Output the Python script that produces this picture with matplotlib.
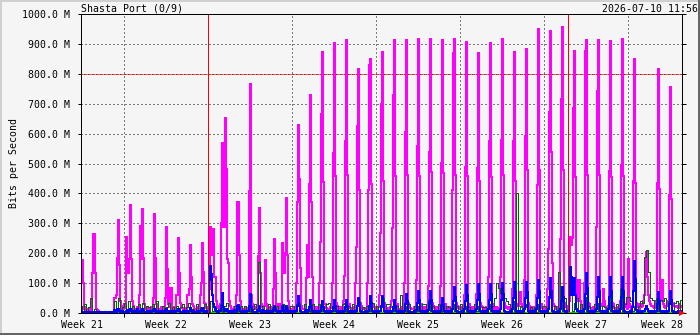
import numpy as np
import matplotlib.pyplot as plt
from matplotlib import transforms
from matplotlib.patches import Rectangle

# MRTG-style weekly traffic graph, "Shasta Port (0/9)"

# %% Data (Mbit/s). Day 0 = 2026-05-21, rows run 00:00 -> 24:00
# max out (magenta), 2-hour samples, 12 per day
max_out_rows = [
    [4, 4, 4, 4, 4, 177, 177, 100, 12, 20, 8, 15],          # May 21
    [10, 14, 8, 12, 135, 264, 264, 135, 15, 10, 6, 5],
    [4, 4, 4, 4, 4, 4, 4, 4, 4, 4, 4, 4],
    [4, 4, 50, 50, 60, 184, 311, 160, 40, 20, 15, 25],
    [30, 18, 255, 135, 135, 180, 361, 180, 40, 22, 15, 12],  # May 25
    [15, 20, 12, 60, 290, 180, 348, 184, 30, 18, 12, 20],
    [12, 15, 10, 20, 20, 50, 331, 184, 30, 25, 15, 12],
    [10, 20, 15, 12, 18, 50, 287, 147, 30, 20, 85, 85],
    [15, 12, 20, 10, 60, 60, 251, 134, 35, 25, 18, 12],
    [12, 18, 10, 60, 60, 80, 227, 121, 30, 22, 15, 10],
    [15, 10, 20, 12, 60, 100, 234, 137, 35, 30, 18, 12],
    [20, 80, 288, 194, 194, 280, 121, 121, 40, 25, 18, 15],  # Jun 1
    [30, 300, 568, 288, 288, 652, 481, 180, 167, 40, 25, 15],
    [15, 12, 20, 18, 60, 371, 371, 194, 40, 20, 15, 12],
    [12, 20, 15, 10, 18, 408, 766, 60, 30, 15, 20, 12],
    [15, 20, 190, 351, 134, 30, 20, 15, 25, 177, 30, 15],
    [12, 15, 20, 10, 15, 80, 248, 134, 30, 20, 15, 30],
    [15, 20, 233, 134, 134, 200, 384, 194, 40, 20, 15, 12],
    [12, 18, 10, 15, 100, 370, 629, 448, 150, 25, 15, 12],  # Jun 8
    [15, 12, 118, 229, 121, 432, 729, 371, 121, 25, 15, 20],
    [12, 20, 15, 100, 236, 665, 873, 438, 30, 30, 18, 12],
    [15, 12, 20, 18, 100, 535, 902, 459, 35, 25, 15, 20],
    [20, 15, 12, 40, 123, 575, 913, 460, 30, 30, 18, 15],
    [15, 20, 12, 100, 221, 624, 816, 411, 35, 25, 15, 12],
    [12, 18, 15, 100, 411, 829, 849, 432, 30, 30, 20, 15],
    [15, 12, 20, 60, 268, 699, 873, 443, 35, 25, 15, 18],    # Jun 15
    [12, 15, 20, 40, 283, 729, 913, 458, 30, 30, 15, 12],
    [15, 20, 12, 18, 100, 607, 913, 461, 35, 25, 18, 15],
    [12, 15, 20, 15, 110, 557, 915, 459, 30, 30, 15, 20],
    [15, 20, 12, 18, 90, 539, 918, 471, 35, 25, 18, 12],
    [20, 15, 12, 20, 90, 502, 913, 468, 30, 30, 15, 18],
    [15, 12, 20, 15, 411, 870, 918, 461, 35, 25, 18, 15],
    [20, 15, 12, 18, 60, 488, 907, 458, 30, 30, 15, 20],     # Jun 22
    [15, 20, 15, 12, 65, 485, 870, 443, 35, 25, 20, 15],
    [12, 18, 20, 15, 121, 575, 904, 455, 30, 30, 15, 12],
    [20, 15, 18, 12, 121, 579, 916, 462, 35, 25, 18, 20],
    [15, 12, 20, 18, 80, 575, 873, 443, 30, 30, 25, 70],
    [70, 30, 20, 15, 110, 591, 884, 479, 35, 25, 15, 20],
    [15, 20, 12, 18, 60, 427, 950, 477, 30, 30, 18, 15],
    [12, 18, 15, 80, 213, 671, 944, 539, 167, 30, 25, 20],   # Jun 29
    [15, 20, 18, 100, 248, 716, 955, 479, 35, 30, 20, 15],
    [25, 40, 254, 227, 250, 685, 876, 455, 40, 40, 110, 110],
    [40, 20, 15, 18, 100, 876, 913, 462, 35, 30, 18, 15],
    [15, 20, 12, 18, 288, 741, 913, 462, 30, 30, 25, 80],
    [40, 20, 15, 12, 25, 474, 910, 455, 35, 30, 18, 15],
    [15, 12, 20, 18, 40, 494, 915, 458, 30, 25, 20, 15],
    [182, 30, 20, 15, 25, 440, 849, 435, 35, 30, 20, 15],    # Jul 6
    [30, 20, 25, 40, 60, 120, 205, 120, 60, 40, 30, 25],
    [25, 20, 18, 30, 40, 434, 816, 415, 40, 40, 110, 30],
    [20, 18, 25, 30, 40, 395, 755, 382, 35, 35, 25, 20],
    [25, 20, 18, 30, 25, 20],                                # Jul 10 until noon
]

# avg out (blue), 2-hour samples
avg_out_rows = [
    [4, 4, 4, 4, 4, 4, 4, 4, 4, 4, 4, 4],
    [4, 4, 4, 4, 4, 4, 4, 4, 4, 4, 4, 4],
    [4, 4, 4, 4, 4, 4, 4, 4, 4, 4, 4, 4],
    [4, 4, 10, 6, 5, 12, 15, 6, 5, 5, 6, 5],
    [5, 5, 6, 10, 5, 6, 14, 8, 5, 5, 6, 5],
    [5, 15, 8, 5, 5, 6, 12, 6, 5, 5, 5, 6],
    [5, 5, 6, 5, 8, 6, 14, 8, 5, 6, 5, 5],
    [6, 5, 5, 6, 5, 8, 12, 6, 5, 5, 6, 5],
    [5, 6, 5, 5, 6, 8, 14, 6, 5, 5, 5, 6],
    [6, 5, 6, 5, 5, 8, 16, 8, 5, 6, 5, 5],
    [5, 6, 5, 5, 6, 10, 18, 8, 5, 5, 6, 5],
    [5, 110, 158, 130, 60, 30, 20, 12, 6, 5, 5, 6],          # Jun 1
    [6, 25, 68, 20, 8, 6, 14, 8, 5, 5, 6, 5],
    [5, 6, 10, 5, 6, 25, 28, 12, 6, 5, 5, 6],
    [6, 5, 5, 6, 8, 25, 62, 20, 6, 5, 5, 5],
    [5, 6, 10, 25, 6, 5, 10, 6, 5, 5, 6, 5],
    [6, 5, 5, 6, 5, 10, 22, 10, 6, 5, 5, 6],
    [5, 6, 22, 10, 5, 6, 22, 10, 5, 5, 6, 5],
    [6, 5, 5, 6, 8, 25, 57, 25, 6, 5, 5, 5],                 # Jun 8
    [5, 6, 10, 5, 6, 20, 45, 20, 6, 5, 6, 5],
    [5, 6, 5, 5, 8, 20, 40, 20, 6, 5, 5, 6],
    [6, 5, 5, 6, 8, 20, 43, 25, 6, 5, 6, 5],
    [5, 6, 5, 5, 8, 20, 45, 25, 6, 5, 5, 6],
    [6, 5, 6, 5, 8, 25, 50, 30, 6, 5, 5, 5],
    [5, 5, 6, 5, 8, 25, 57, 35, 6, 5, 6, 5],
    [6, 5, 5, 6, 8, 25, 57, 35, 6, 5, 5, 6],                 # Jun 15
    [5, 6, 5, 5, 8, 20, 43, 25, 6, 5, 5, 6],
    [6, 5, 6, 5, 8, 30, 62, 40, 6, 5, 5, 5],
    [5, 5, 6, 5, 10, 35, 73, 45, 8, 5, 6, 5],
    [6, 5, 5, 6, 10, 35, 73, 45, 8, 5, 5, 6],
    [5, 6, 5, 5, 8, 25, 50, 30, 6, 5, 5, 6],
    [6, 5, 6, 5, 12, 40, 87, 55, 8, 5, 5, 5],
    [5, 5, 6, 5, 12, 40, 93, 60, 8, 5, 6, 5],                # Jun 22
    [6, 5, 5, 6, 12, 45, 96, 65, 8, 5, 5, 6],
    [5, 6, 5, 5, 12, 45, 96, 65, 8, 5, 5, 6],
    [6, 5, 6, 5, 12, 45, 100, 65, 8, 5, 5, 5],
    [5, 5, 6, 5, 12, 50, 105, 70, 8, 5, 6, 5],
    [6, 5, 5, 6, 12, 50, 105, 70, 8, 5, 5, 6],
    [5, 6, 5, 5, 12, 50, 110, 75, 8, 5, 5, 6],
    [6, 5, 6, 5, 15, 55, 117, 75, 8, 5, 5, 5],               # Jun 29
    [5, 5, 6, 5, 12, 40, 87, 55, 8, 5, 6, 5],
    [6, 60, 154, 120, 60, 117, 117, 60, 12, 8, 6, 5],
    [5, 6, 5, 5, 15, 65, 135, 85, 8, 5, 5, 6],
    [6, 5, 5, 6, 15, 55, 121, 75, 8, 5, 6, 5],
    [5, 6, 5, 5, 15, 55, 121, 75, 8, 5, 5, 6],
    [6, 5, 6, 5, 15, 55, 121, 75, 8, 5, 5, 5],
    [5, 5, 6, 5, 20, 75, 174, 115, 10, 5, 6, 5],             # Jul 6
    [6, 5, 5, 6, 8, 12, 25, 15, 6, 5, 5, 6],
    [5, 6, 5, 5, 8, 30, 70, 40, 6, 5, 5, 6],
    [6, 5, 6, 5, 8, 30, 75, 45, 6, 5, 5, 5],
    [5, 5, 6, 5, 6, 5],
]

# max in (dark green), 4-hour samples, 6 per day
max_in_rows = [
    [0, 0, 25, 8, 30, 5], [20, 50, 6, 15, 0, 0], [0, 0, 0, 0, 0, 0],
    [0, 40, 8, 50, 6, 20], [35, 5, 40, 8, 25, 6], [8, 30, 5, 35, 6, 25],
    [20, 6, 30, 5, 40, 8], [6, 25, 5, 20, 35, 5], [20, 5, 25, 6, 20, 30],
    [5, 20, 35, 6, 15, 5], [30, 6, 20, 5, 30, 8], [5, 40, 8, 20, 6, 15],
    [30, 5, 25, 35, 6, 8], [6, 25, 5, 15, 25, 5], [25, 6, 20, 5, 15, 30],
    [5, 170, 8, 25, 6, 15], [30, 5, 20, 6, 25, 8], [6, 30, 5, 20, 6, 25],
    [25, 5, 30, 35, 6, 8], [30, 6, 20, 5, 30, 5], [5, 30, 6, 20, 5, 30],
    [33, 5, 20, 6, 25, 8], [6, 30, 35, 5, 25, 6], [30, 5, 25, 40, 6, 20],
    [5, 25, 6, 25, 35, 5], [25, 6, 20, 50, 5, 30], [30, 5, 20, 6, 25, 5],
    [60, 6, 25, 5, 30, 8], [5, 25, 6, 25, 5, 30], [30, 5, 45, 6, 25, 5],
    [6, 30, 5, 25, 6, 25], [20, 5, 30, 6, 25, 5], [30, 6, 25, 5, 20, 8],
    [5, 30, 6, 25, 5, 20], [20, 5, 30, 6, 25, 50], [100, 85, 67, 60, 50, 40],
    [30, 6, 40, 5, 401, 8], [25, 5, 20, 30, 6, 20], [6, 20, 5, 30, 6, 25],
    [25, 6, 50, 60, 5, 25], [8, 137, 40, 6, 50, 5], [67, 60, 6, 35, 50, 5],
    [30, 6, 55, 5, 25, 6], [5, 30, 6, 35, 5, 25], [20, 5, 50, 6, 25, 5],
    [30, 6, 80, 5, 30, 53], [53, 40, 6, 25, 5, 25], [40, 35, 187, 211, 137, 50],
    [45, 8, 50, 6, 45, 40], [50, 6, 40, 45, 8, 35], [40, 8, 45],
]

# avg in (green area), one value per day
avg_in_days = [1, 1, 0, 2, 2, 2, 2, 2, 2, 2, 2, 3, 3, 2, 2, 3, 2, 2, 3, 3,
               2, 3, 3, 3, 2, 3, 3, 3, 3, 3, 2, 3, 3, 3, 3, 4, 4, 3, 3, 4,
               4, 4, 3, 3, 3, 3, 4, 4, 4, 4, 4]

week_bounds = [-7, 0, 7, 14, 21, 28, 35]          # Mondays, days from Jun 1
week_names = ['Week 21', 'Week 22', 'Week 23', 'Week 24',
              'Week 25', 'Week 26', 'Week 27', 'Week 28']
week_label_day = [-10.5, -3.5, 3.5, 10.5, 17.5, 24.5, 31.5, 37.8]
month_starts = [0, 30]                            # Jun 1, Jul 1
y_ticks = list(range(0, 1001, 100))

# %% Setup
W, H, DPI = 700, 335, 100
BG = '#f5f5f5'
FONT = 'DejaVu Sans Mono'
FS = 7.1
PX = 72.0 / DPI            # one pixel in points
START = -11.0              # May 21 00:00 relative to Jun 1
T_LEFT = START + 5 / 12.0
T_RIGHT = 39.5             # Jul 10 12:00

fig = plt.figure(figsize=(W / DPI, H / DPI), dpi=DPI, facecolor=BG)
ax = fig.add_axes([81 / W, 22 / H, 601 / W, 299 / H], facecolor=BG)


def flat(rows):
    return np.array([v for r in rows for v in r], float)


def step_xy(vals, per_day):
    t = START + np.arange(len(vals) + 1) / per_day
    return t, np.append(vals, vals[-1])


# grid
for y in y_ticks[1:-1]:
    ax.axhline(y, color='black', lw=PX, ls=(0, (1, 3)), zorder=1)
    if y == 800:
        ax.axhline(y, color='red', lw=PX, ls=(2, (2, 2)), zorder=1)
for d in week_bounds:
    ax.axvline(d, color='black', lw=PX, ls=(0, (1, 3)), zorder=1)

# data
t, v = step_xy(flat(max_out_rows), 12)
ax.step(t, v, where='post', color='#ff00ff', lw=PX, antialiased=False, zorder=2)
t, v = step_xy(np.array(avg_in_days, float), 1)
ax.fill_between(t, 0, v, step='post', color='#00cc00', lw=0, zorder=3)
t, v = step_xy(flat(max_in_rows), 6)
ax.step(t, v, where='post', color='#006600', lw=PX, antialiased=False, zorder=3)
t, v = step_xy(flat(avg_out_rows), 12)
ax.step(t, v, where='post', color='#0000ff', lw=PX, antialiased=False, zorder=4)

for d in month_starts:
    ax.axvline(d, color='red', lw=PX, zorder=5)

ax.set_xlim(T_LEFT, T_RIGHT)
ax.set_ylim(0, 1000)

for s in ax.spines.values():
    s.set_linewidth(PX)
    s.set_color('black')
    s.set_zorder(6)

ax.set_yticks(y_ticks)
ax.set_yticklabels(['%.1f M' % y for y in y_ticks], family=FONT, fontsize=FS)
ax.tick_params(axis='y', which='major', left=True, right=True,
               direction='out', length=3.5 * PX, width=PX, pad=5.5)
ax.set_xticks(week_bounds)
ax.set_xticklabels([])
ax.tick_params(axis='x', direction='out', length=3.5 * PX, width=PX)

ax.plot([1.0], [0.0], marker='>', color='red', ms=5, mew=0,
        transform=ax.transAxes, clip_on=False, zorder=7)

# labels
bt = transforms.blended_transform_factory(ax.transData, fig.transFigure)
for d, name in zip(week_label_day, week_names):
    ax.text(d, 1 - 328 / H, name, transform=bt, ha='center', va='baseline',
            family=FONT, fontsize=FS, clip_on=False)

fig.text(81 / W, 1 - 11.5 / H, 'Shasta Port (0/9)', ha='left', va='baseline',
         family=FONT, fontsize=FS)
fig.text(698 / W, 1 - 11.5 / H, '2026-07-10 11:56', ha='right', va='baseline',
         family=FONT, fontsize=FS)
fig.text(14 / W, 1 - 163.5 / H, 'Bits per Second', rotation=90, ha='center',
         va='center', family=FONT, fontsize=FS)

# 3D-ish frame
fig.add_artist(Rectangle((0, 1 - 2 / H), 1, 2 / H, transform=fig.transFigure,
                         color='#d0d0d0', lw=0))
fig.add_artist(Rectangle((0, 0), 2 / W, 1, transform=fig.transFigure,
                         color='#d0d0d0', lw=0))
fig.add_artist(Rectangle((0, 0), 1, 2 / H, transform=fig.transFigure,
                         color='#666666', lw=0))
fig.add_artist(Rectangle((1 - 2 / W, 0), 2 / W, 1, transform=fig.transFigure,
                         color='#666666', lw=0))

fig.savefig('out.png', dpi=DPI, facecolor=BG)
